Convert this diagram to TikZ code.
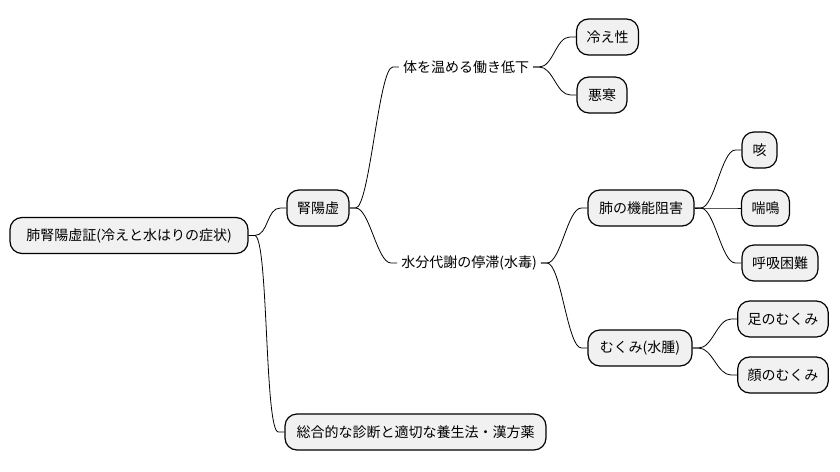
\documentclass[tikz,border=0pt]{standalone}
\usepackage{fontspec}
\setmainfont{Noto Sans CJK JP}
\definecolor{boxfill}{HTML}{F1F1F1}
\tikzset{
  box/.style={draw=black, line width=1.2pt, fill=boxfill, rounded corners=12pt,
    minimum height=36pt, inner xsep=10pt, inner ysep=0pt, font=\fontsize{14}{16}\selectfont},
  plain/.style={inner xsep=4pt, minimum height=20pt, inner ysep=0pt, font=\fontsize{14}{16}\selectfont},
  link/.style={draw=black, line width=0.8pt}
}
\newcommand{\conn}[2]{\draw[link] (#1.east) -- ++(6,0) .. controls +(14,0) and +(-14,0) .. ([xshift=-6pt]#2.west) -- (#2.west);}
\begin{document}
\begin{tikzpicture}[x=1pt,y=-1pt]
\useasboundingbox (0,0) rectangle (840,471);
\node[box, minimum width=238pt] (root) at (129,235.5) {肺腎陽虚証(冷えと水はりの症状)};
\node[box, minimum width=62pt] (jin) at (318,208) {腎陽虚};
\node[plain] (warm) at (466,67) {体を温める働き低下};
\node[box, minimum width=61pt] (hie) at (607.5,37) {冷え性};
\node[box, minimum width=50pt] (okan) at (602,95) {悪寒};
\node[plain] (water) at (469,263) {水分代謝の停滞(水毒)};
\node[box, minimum width=106pt] (hai) at (641,208) {肺の機能阻害};
\node[box, minimum width=35pt] (seki) at (759.5,150) {咳};
\node[box, minimum width=47pt] (zen) at (765.5,208) {喘鳴};
\node[box, minimum width=76pt] (kokyu) at (780,263) {呼吸困難};
\node[box, minimum width=104pt] (muku) at (640,348) {むくみ(水腫)};
\node[box, minimum width=88pt] (ashi) at (783,319) {足のむくみ};
\node[box, minimum width=88pt] (kao) at (783,375) {顔のむくみ};
\node[box, minimum width=261pt] (sogo) at (415.5,432) {総合的な診断と適切な養生法・漢方薬};
\conn{root}{jin}
\conn{root}{sogo}
\conn{jin}{warm}
\conn{jin}{water}
\conn{warm}{hie}
\conn{warm}{okan}
\conn{water}{hai}
\conn{water}{muku}
\conn{hai}{seki}
\conn{hai}{zen}
\conn{hai}{kokyu}
\conn{muku}{ashi}
\conn{muku}{kao}
\end{tikzpicture}
\end{document}
